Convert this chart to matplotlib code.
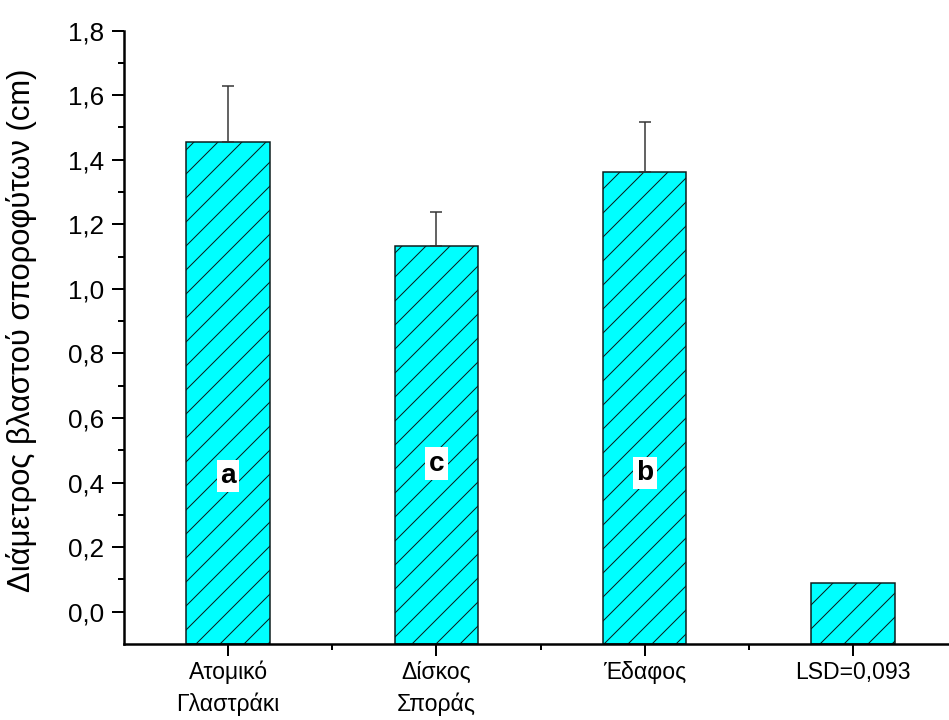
import matplotlib
matplotlib.use("Agg")
import matplotlib.pyplot as plt
from matplotlib.ticker import FuncFormatter, FixedLocator

categories = ["Ατομικό\nΓλαστράκι", "Δίσκος\nΣποράς", "Έδαφος", "LSD=0,093"]
values = [1.455, 1.134, 1.361, 0.09]
errors = [0.173, 0.103, 0.156, 0.0]
letters = ["a", "c", "b"]
letter_y = [0.42, 0.458, 0.43]
ylabel = "Διάμετρος βλαστού σποροφύτων (cm)"

DPI = 144
def px(v):
    return v * 72.0 / DPI

plt.rcParams['font.family'] = ['Liberation Sans', 'DejaVu Sans']
plt.rcParams['hatch.linewidth'] = px(1.0)
plt.rcParams['hatch.color'] = '#1a1a1a'

fig = plt.figure(figsize=(949 / DPI, 720 / DPI), dpi=DPI)
ax = fig.add_axes([124 / 949, 76 / 720, 1 - 124 / 949, (644 - 30.6) / 720])

ymin, ymax = -0.1, 1.8
x = list(range(1, len(categories) + 1))
heights = [v - ymin for v in values]
ax.bar(x, heights, bottom=ymin, width=0.4, color='#00FFFF', edgecolor='#0a1a1a',
       linewidth=px(1.5), hatch='//', zorder=2)

ax.errorbar(x[:3], values[:3], yerr=[[0, 0, 0], errors[:3]], fmt='none',
            ecolor='#333333', elinewidth=px(1.5), capsize=px(6), capthick=px(1.5), zorder=3)

for xi, lt, ly in zip(x[:3], letters, letter_y):
    ax.text(xi, ly, lt, ha='center', va='center', fontsize=px(28), fontweight='bold',
            color='black', zorder=4,
            bbox=dict(boxstyle='square,pad=0.12', facecolor='white', edgecolor='none'))

ax.set_xlim(0.5, 0.5 + (949 - 124) / 208.3)
ax.set_ylim(ymin, ymax)

ax.yaxis.set_major_locator(FixedLocator([0, 0.2, 0.4, 0.6, 0.8, 1.0, 1.2, 1.4, 1.6, 1.8]))
ax.yaxis.set_minor_locator(FixedLocator([0.1, 0.3, 0.5, 0.7, 0.9, 1.1, 1.3, 1.5, 1.7]))
ax.yaxis.set_major_formatter(FuncFormatter(lambda v, p: f"{v:.1f}".replace('.', ',')))

ax.set_xticks(x)
ax.set_xticklabels(categories, fontsize=px(23), linespacing=1.45)
ax.xaxis.set_minor_locator(FixedLocator([1.5, 2.5, 3.5]))

for s in ['top', 'right']:
    ax.spines[s].set_visible(False)
for s in ['left', 'bottom']:
    ax.spines[s].set_linewidth(px(2.5))

ax.tick_params(axis='y', which='major', direction='out', length=px(12), width=px(2), labelsize=px(26), pad=px(8))
ax.tick_params(axis='y', which='minor', direction='out', length=px(6), width=px(2))
ax.tick_params(axis='x', which='major', direction='out', length=px(12), width=px(2), pad=px(5))
ax.tick_params(axis='x', which='minor', direction='out', length=px(6), width=px(2))

ax.set_ylabel(ylabel, fontsize=px(31), va='center')
ax.yaxis.set_label_coords((22 - 124) / 825, (644 - 330) / (644 - 30.6))

fig.savefig("out.png", dpi=DPI)
